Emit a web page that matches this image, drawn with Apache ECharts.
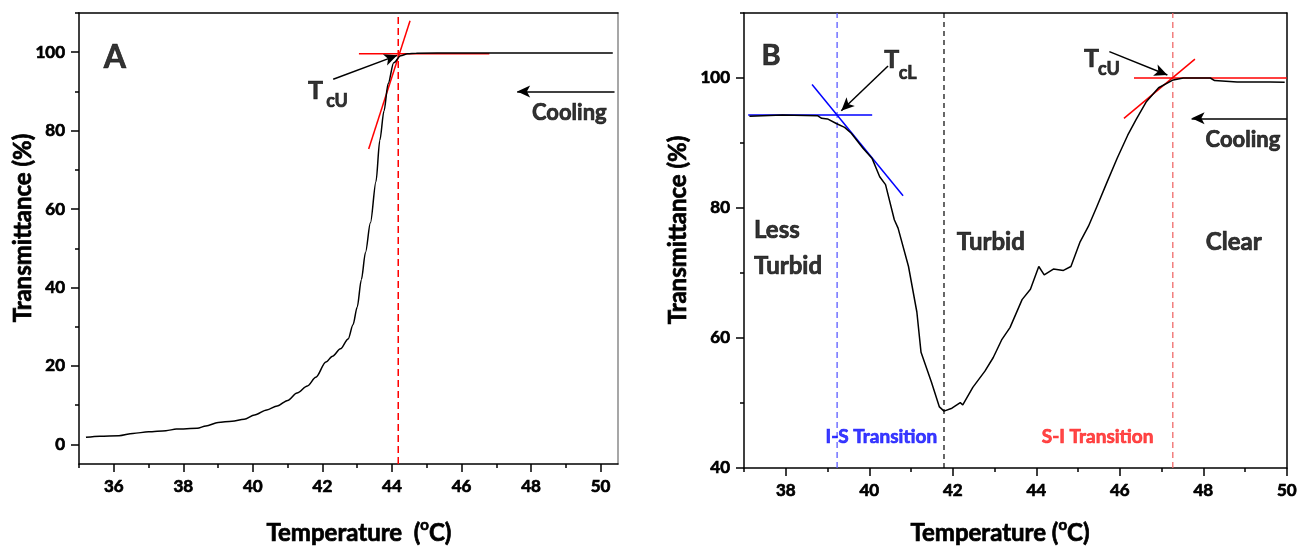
<!DOCTYPE html>
<html><head><meta charset="utf-8">
<script src="https://cdn.jsdelivr.net/npm/echarts@6/dist/echarts.min.js"></script>
<style>html,body{margin:0;padding:0;background:#fff}#c{width:1300px;height:548px}</style>
</head><body><div id="c"></div>
<script>
// ---------- Panel A data ----------
const tempA = [35.2, 35.6, 36.15, 36.55, 37.0, 37.5, 37.8, 38.4, 38.65, 39.0, 39.4, 39.75, 40.05, 40.4, 40.7, 41.0, 41.27, 41.57, 41.81, 42.1, 42.29, 42.52, 42.74, 42.88, 43.0, 43.12, 43.24, 43.38, 43.54, 43.65, 43.77, 43.89, 44.05, 44.25, 44.45, 44.7, 45.9, 48.2, 50.35];
const transA = [1.8, 2.1, 2.2, 2.8, 3.2, 3.5, 3.9, 4.1, 4.7, 5.6, 5.9, 6.4, 7.5, 8.8, 9.8, 11.2, 13.1, 14.9, 17.1, 21.0, 22.5, 24.4, 26.9, 30.5, 35.0, 42.0, 49.0, 56.5, 67.0, 77.5, 85.0, 92.0, 97.3, 99.1, 99.6, 99.75, 99.8, 99.8, 99.8];
const xTicksA = [36, 38, 40, 42, 44, 46, 48, 50];
const xMinorA = [35, 37, 39, 41, 43, 45, 47, 49];
const yTicksA = [0, 20, 40, 60, 80, 100];
const yMinorA = [10, 30, 50, 70, 90, 110];
const tcuA = 44.18;
const tanFlatA = [[43.05, 99.6], [46.8, 99.6]];
const tanSteepA = [[43.33, 75.3], [44.52, 108]];
const arrowTcuA = [[42.31, 93.1], [44.15, 99.2]];
const arrowCoolA = [[50.4, 90], [47.6, 90]];

// ---------- Panel B data ----------
const tempB = [37.13, 37.92, 38.76, 38.86, 39.0, 39.21, 39.41, 39.57, 39.85, 40.07, 40.25, 40.39, 40.6, 40.69, 40.94, 41.14, 41.24, 41.49, 41.68, 41.79, 41.98, 42.18, 42.24, 42.48, 42.77, 42.97, 43.17, 43.37, 43.66, 43.86, 44.06, 44.19, 44.41, 44.65, 44.83, 45.05, 45.25, 45.45, 45.69, 45.94, 46.19, 46.39, 46.63, 46.93, 47.28, 47.52, 48.17, 48.27, 48.81, 49.6, 49.95];
const transB = [94.1, 94.3, 94.2, 93.8, 93.7, 93.0, 92.4, 91.5, 89.2, 87.6, 84.8, 83.6, 78.2, 76.9, 71.0, 64.0, 57.8, 53.2, 49.4, 48.75, 49.2, 50.05, 49.7, 52.4, 54.9, 57.0, 59.7, 61.6, 65.9, 67.5, 71.0, 69.7, 70.6, 70.4, 71.0, 74.8, 77.2, 80.2, 83.9, 87.7, 91.2, 93.6, 96.3, 98.5, 99.7, 100.0, 100.0, 99.6, 99.4, 99.4, 99.35];
const xTicksB = [38, 40, 42, 44, 46, 48, 50];
const xMinorB = [37, 39, 41, 43, 45, 47, 49];
const yTicksB = [40, 60, 80, 100];
const yMinorB = [50, 70, 90, 110];
const tclB = 39.23, tminB = 41.79, tcuB = 47.27;
const tanBlueFlatB = [[37.1, 94.3], [40.07, 94.3]];
const tanBlueSlopeB = [[38.63, 99.0], [40.81, 81.9]];
const tanRedFlatB = [[46.34, 100], [50, 100]];
const tanRedSlopeB = [[46.1, 93.8], [47.8, 102.9]];
const arrowTclB = [[40.45, 101.85], [39.33, 94.97]];
const arrowTcuB = [[45.75, 104.05], [47.14, 100.46]];
const arrowCoolB = [[50, 93.8], [47.72, 93.8]];

// ---------- annotation texts ----------
const annotA = [
  {text: 'A', at: [36.03, 98.7], size: 32},
  {text: 'T', at: [41.8, 90.2], size: 25},
  {text: 'cU', at: [42.42, 87.6], size: 18},
  {text: 'Cooling', at: [49.1, 84.4], size: 22}
];
const annotB = [
  {text: 'B', at: [37.65, 103.5], size: 29},
  {text: 'T', at: [40.54, 102.8], size: 25},
  {text: 'cL', at: [40.92, 100.8], size: 18},
  {text: 'T', at: [45.32, 102.9], size: 25},
  {text: 'cU', at: [45.74, 101.3], size: 18},
  {text: 'Cooling', at: [48.95, 90.4], size: 22},
  {text: 'Less', at: [37.24, 76.5], size: 24, align: 'left'},
  {text: 'Turbid', at: [37.24, 71.0], size: 24, align: 'left'},
  {text: 'Turbid', at: [42.91, 74.8], size: 24},
  {text: 'Clear', at: [48.73, 74.8], size: 24},
  {text: 'I-S Transition', at: [40.29, 44.8], size: 19, color: '#0a0aff'},
  {text: 'S-I Transition', at: [45.47, 44.8], size: 19, color: '#ff1a1a'}
];

const FONT = 'Lato';
const BW = 0.7; // extra stroke to mimic the heavy bold face
const pairs = (xs, ys) => xs.map((x, i) => [x, ys[i]]);

function makeAxes(g, xr, yr, xMaj, xMin, yMaj, yMin, rightColor) {
  const tickStyle = {color: '#000', width: 1.5};
  const lbl = {fontFamily: FONT, fontWeight: 'bold', fontSize: 17, color: '#000', textBorderColor: '#000', textBorderWidth: BW};
  const xs = [
    {type: 'value', gridIndex: g, position: 'bottom', min: xr[0], max: xr[1],
      axisLine: {show: true, onZero: false, lineStyle: {color: '#000', width: 1.5}},
      axisTick: {show: true, customValues: xMaj, length: 8, lineStyle: tickStyle},
      axisLabel: Object.assign({show: true, customValues: xMaj, margin: 14}, lbl),
      splitLine: {show: false}},
    {type: 'value', gridIndex: g, position: 'bottom', min: xr[0], max: xr[1],
      axisLine: {show: false, onZero: false},
      axisTick: {show: true, customValues: xMin, length: 4, lineStyle: tickStyle},
      axisLabel: {show: false}, splitLine: {show: false}},
    {type: 'value', gridIndex: g, position: 'top', min: xr[0], max: xr[1],
      axisLine: {show: true, onZero: false, lineStyle: {color: '#000', width: 1.5}},
      axisTick: {show: false}, axisLabel: {show: false}, splitLine: {show: false}}
  ];
  const ys = [
    {type: 'value', gridIndex: g, position: 'left', min: yr[0], max: yr[1],
      axisLine: {show: true, onZero: false, lineStyle: {color: '#000', width: 1.5}},
      axisTick: {show: true, customValues: yMaj, length: 8, lineStyle: tickStyle},
      axisLabel: Object.assign({show: true, customValues: yMaj, margin: 14}, lbl),
      splitLine: {show: false}},
    {type: 'value', gridIndex: g, position: 'left', min: yr[0], max: yr[1],
      axisLine: {show: false, onZero: false},
      axisTick: {show: true, customValues: yMin, length: 4, lineStyle: tickStyle},
      axisLabel: {show: false}, splitLine: {show: false}},
    {type: 'value', gridIndex: g, position: 'right', min: yr[0], max: yr[1],
      axisLine: {show: true, onZero: false, lineStyle: {color: rightColor, width: 1.5}},
      axisTick: {show: false}, axisLabel: {show: false}, splitLine: {show: false}}
  ];
  return {xs, ys};
}

const axA = makeAxes(0, [35, 50.5], [-5, 110], xTicksA, xMinorA, yTicksA, yMinorA, '#8a8a8a');
const axB = makeAxes(1, [37, 50], [40, 110], xTicksB, xMinorB, yTicksB, yMinorB, '#000');

function seg(xi, yi, data, color, width, type) {
  return {type: 'line', xAxisIndex: xi, yAxisIndex: yi, data: data, showSymbol: false, symbol: 'none',
    lineStyle: {color: color, width: width, type: type || 'solid'}, silent: true, z: 3};
}
function arrows(list) {
  return {silent: true, symbol: ['none', 'arrow'], symbolSize: [9, 13], animation: false,
    lineStyle: {color: '#000', width: 1.5, type: 'solid'}, label: {show: false},
    emphasis: {disabled: true},
    data: list.map(a => [{coord: a[0]}, {coord: a[1]}])};
}
function annot(xi, yi, list) {
  return {type: 'scatter', xAxisIndex: xi, yAxisIndex: yi, symbolSize: 1, silent: true, z: 10,
    itemStyle: {color: 'rgba(0,0,0,0)'},
    data: list.map(a => ({value: a.at, label: {show: true, position: 'inside', formatter: a.text,
      align: a.align || 'center', verticalAlign: 'middle',
      fontFamily: FONT, fontWeight: 'bold', fontSize: a.size, color: a.color || '#000',
      textBorderColor: a.color || '#000', textBorderWidth: BW}}))};
}

const series = [
  // Panel A
  seg(0, 0, [[tcuA, -5], [tcuA, 110]], '#ff0000', 1.5, [7, 4]),
  seg(0, 0, tanFlatA, '#ff0000', 1.5),
  seg(0, 0, tanSteepA, '#ff0000', 1.5),
  Object.assign(seg(0, 0, pairs(tempA, transA), '#000', 1.5), {smooth: 0.3, smoothMonotone: 'x', z: 4, markLine: arrows([arrowTcuA, arrowCoolA])}),
  annot(0, 0, annotA),
  // Panel B
  seg(3, 3, [[tclB, 40], [tclB, 110]], '#5c5cff', 1.3, [6, 4]),
  seg(3, 3, [[tminB, 40], [tminB, 110]], '#000', 1.2, [5, 4]),
  seg(3, 3, [[tcuB, 40], [tcuB, 110]], '#f06a6a', 1.3, [6, 4]),
  Object.assign(seg(3, 3, pairs(tempB, transB), '#000', 1.5), {z: 4, markLine: arrows([arrowTclB, arrowTcuB, arrowCoolB])}),
  seg(3, 3, tanBlueFlatB, '#0000ff', 1.5),
  seg(3, 3, tanBlueSlopeB, '#0000ff', 1.5),
  seg(3, 3, tanRedFlatB, '#ff0000', 1.5),
  seg(3, 3, tanRedSlopeB, '#ff0000', 1.5),
  annot(3, 3, annotB)
];

const titleRich = {
  n: {fontFamily: FONT, fontWeight: 'bold', fontSize: 24, lineHeight: 30, fill: '#000', stroke: '#000', lineWidth: BW},
  s: {fontFamily: FONT, fontWeight: 'bold', fontSize: 15, lineHeight: 16, verticalAlign: 'top', fill: '#000', stroke: '#000', lineWidth: BW}
};
function gText(x, y, text, rot) {
  return {type: 'text', x: x, y: y, rotation: rot || 0, silent: true,
    style: {text: text, fontFamily: FONT, fontWeight: 'bold', fontSize: 24, fill: '#000',
      stroke: '#000', lineWidth: BW,
      align: 'center', verticalAlign: 'middle', rich: titleRich}};
}

const chart = echarts.init(document.getElementById('c'));
chart.setOption({
  animation: false,
  backgroundColor: '#fff',
  grid: [
    {left: 79, top: 13, width: 539, height: 451},
    {left: 744, top: 13, width: 544, height: 455}
  ],
  xAxis: axA.xs.concat(axB.xs),
  yAxis: axA.ys.concat(axB.ys),
  series: series,
  graphic: [
    gText(359, 533, '{n|Temperature  (}{s|o}{n|C)}'),
    gText(1000, 533, '{n|Temperature (}{s|o}{n|C)}'),
    gText(23, 228, 'Transmittance (%)', Math.PI / 2),
    gText(678, 230, 'Transmittance (%)', Math.PI / 2)
  ]
});
</script></body></html>
